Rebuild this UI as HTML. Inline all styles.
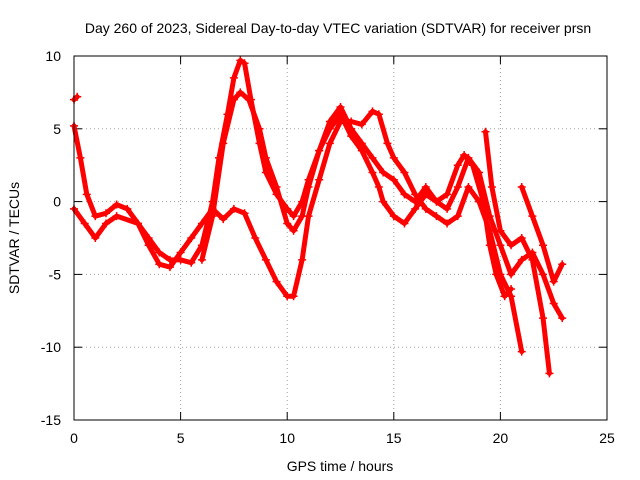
<!DOCTYPE html>
<html><head><meta charset="utf-8"><style>
body{margin:0;background:#fff}
svg{display:block}
text{font-family:"Liberation Sans",sans-serif;font-size:14px;fill:#000}
</style></head><body>
<svg id="chart" width="640" height="480">
<rect width="640" height="480" fill="#fff"/>
<text x="338" y="33" text-anchor="middle">Day 260 of 2023, Sidereal Day-to-day VTEC variation (SDTVAR) for receiver prsn</text>
<text x="340" y="471" text-anchor="middle">GPS time / hours</text>
<text transform="translate(19,238) rotate(-90)" text-anchor="middle">SDTVAR / TECUs</text>
<g id="grid"></g><g id="ticks"></g><g id="series"></g>
<rect x="74" y="56" width="533" height="364" fill="none" stroke="#000"/>
</svg>
<script>
const xTicks=[0,5,10,15,20,25];
const yTicks=[-15,-10,-5,0,5,10];
const track1=[[0,5.2],[0.3,3],[0.6,0.5],[1,-1],[1.5,-0.8],[2,-0.2],[2.5,-0.5],[3,-1.5],[3.5,-2.5],[4,-3.5],[4.5,-4],[5,-4],[5.5,-4.2],[6,-3],[6.5,0],[6.8,3],[7.2,6],[7.5,8.5],[7.8,9.7],[8,9.5],[8.3,7],[8.7,4],[9,2],[9.5,0.5],[10,-0.5],[10.3,-1],[10.7,0],[11,1.5],[11.5,3.5],[12,5.5],[12.5,6.5],[13,5],[13.5,4],[14,3],[14.5,2],[15,1.5],[15.5,0.5],[16,0],[16.5,1],[17,0],[17.5,-0.5],[18,1],[18.5,3],[19,2],[19.5,-1],[20,-3],[20.5,-5],[21,-4],[21.5,-3.5],[22,-5],[22.5,-7],[22.9,-8]];
const track2=[[0,-0.5],[0.5,-1.5],[1,-2.5],[1.5,-1.5],[2,-1],[3,-1.5],[3.5,-3],[4,-4.3],[4.5,-4.5],[5,-3.5],[5.5,-2.5],[6,-1.5],[6.5,-0.5],[7,-1.2],[7.5,-0.5],[8,-0.8],[8.5,-2.5],[9,-4],[9.5,-5.5],[10,-6.5],[10.3,-6.5],[10.7,-4],[11,-1],[11.5,1.5],[12,4],[12.5,5.5],[13,5.5],[13.5,5.3],[14,6.2],[14.3,6],[14.7,4],[15,3],[15.5,2],[16,0.5],[16.5,-0.5],[17,-1],[17.5,-1.5],[18,-1],[18.5,1],[19,0],[19.5,-2],[20,-5],[20.5,-6.5],[21,-10.3]];
const track3=[[6,-4],[6.5,-1],[7,4],[7.5,7],[7.8,7.5],[8.2,7],[8.7,5],[9,3],[9.5,1],[10,-1.5],[10.3,-2],[10.7,-1],[11,1],[11.5,3.5],[12,5],[12.5,6],[13,4.5],[13.5,3.5],[14,2],[14.3,1],[14.5,0],[15,-1],[15.5,-1.5],[16,-0.5],[16.5,0.5],[17,0],[17.5,0.5],[18,2.5],[18.3,3.2],[18.7,2.5],[19.2,0],[19.5,-3],[19.8,-5],[20.2,-6.5],[20.5,-6]];
const track4=[[19.3,4.8],[19.6,1],[20,-2],[20.5,-3],[21,-2.5],[21.5,-4],[22,-8],[22.3,-11.8]];
const track5=[[21,1],[21.5,-1],[22,-3],[22.5,-5.5],[22.9,-4.3]];
const track6=[[0,7],[0.15,7.2]];
const tracks=[track1,track2,track3,track4,track5,track6];
const NS='http://www.w3.org/2000/svg';
const X=t=>74+t*533/25, Y=v=>56+(10-v)*364/25;
const grid=document.getElementById('grid'),ticks=document.getElementById('ticks'),ser=document.getElementById('series');
function mk(tag,attrs,parent){const e=document.createElementNS(NS,tag);for(const k in attrs)e.setAttribute(k,attrs[k]);parent.appendChild(e);return e;}
xTicks.forEach(t=>{
  const g=mk('line',{x1:X(t),x2:X(t),y1:56,y2:420,stroke:'#a0a0a0','stroke-dasharray':'1,3'},grid);
  
  
  mk('line',{x1:X(t),x2:X(t),y1:420,y2:412,stroke:'#000'},ticks);
  mk('line',{x1:X(t),x2:X(t),y1:56,y2:64,stroke:'#000'},ticks);
  const l=mk('text',{x:X(t),y:443,'text-anchor':'middle'},ticks);l.textContent=t;
  
  
});
yTicks.forEach(v=>{
  const g=mk('line',{x1:74,x2:607,y1:Y(v),y2:Y(v),stroke:'#a0a0a0','stroke-dasharray':'1,3'},grid);
  
  
  mk('line',{x1:74,x2:82,y1:Y(v),y2:Y(v),stroke:'#000'},ticks);
  mk('line',{x1:599,x2:607,y1:Y(v),y2:Y(v),stroke:'#000'},ticks);
  const l=mk('text',{x:61,y:Y(v)+5,'text-anchor':'end'},ticks);l.textContent=v;
  
  
});
tracks.forEach((tr,i)=>{
  const p=mk('polyline',{points:tr.map(d=>X(d[0])+','+Y(d[1])).join(' '),fill:'none',stroke:'#ff0000','stroke-width':5,'stroke-linejoin':'round','stroke-linecap':'round'},ser);
  
  
  tr.forEach(d=>{
    const m=mk('path',{d:`M${X(d[0])-4},${Y(d[1])}h8M${X(d[0])},${Y(d[1])-4}v8`,stroke:'#ff0000','stroke-width':1.5},ser);
    
    
  });
});
</script>
</body></html>
